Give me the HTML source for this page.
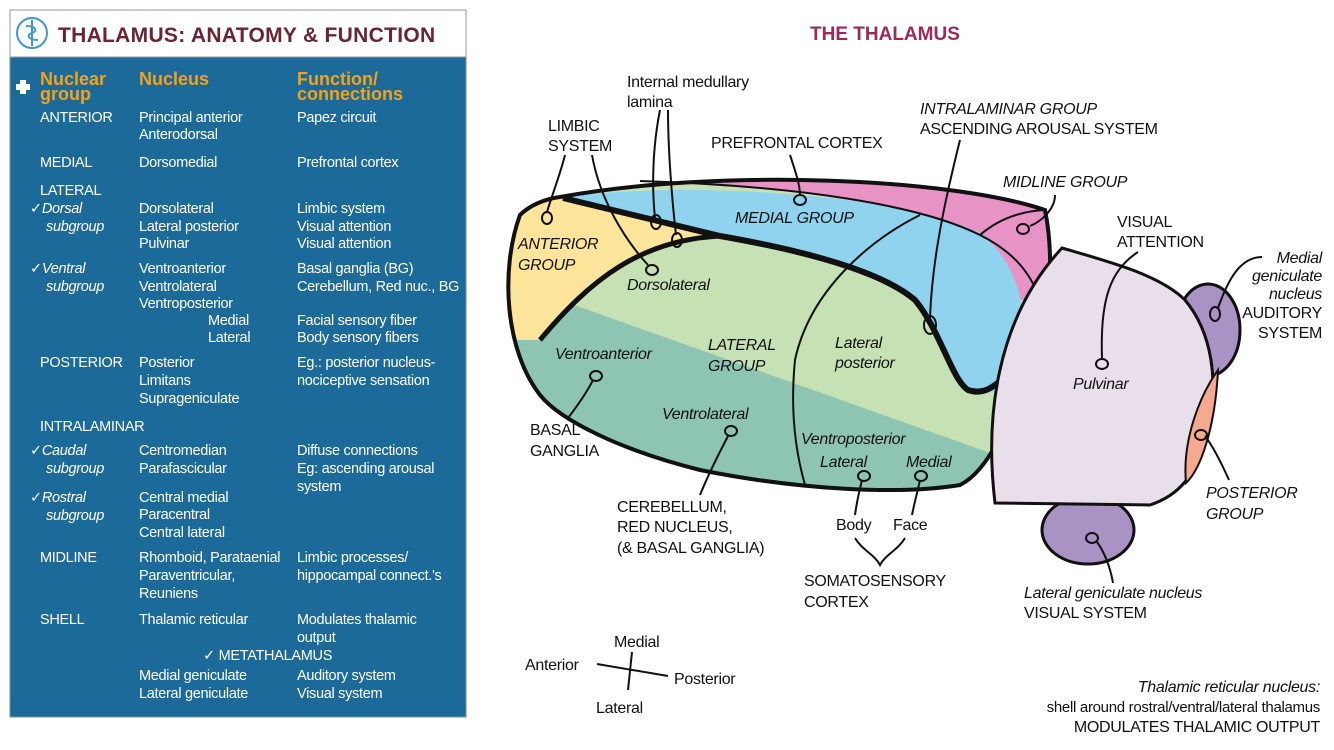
<!DOCTYPE html>
<html><head><meta charset="utf-8"><style>
body{margin:0;background:#fff;}
svg{display:block;}
.t{font-family:"Liberation Sans",sans-serif;font-size:14.5px;fill:#fff;letter-spacing:-0.3px;}
.h{font-family:"Liberation Sans",sans-serif;font-size:18px;font-weight:bold;fill:#f5a11c;}
.d{font-family:"Liberation Sans",sans-serif;font-size:16px;fill:#111;letter-spacing:-0.3px;}
.i{font-style:italic;}
.ln{fill:none;stroke:#111;stroke-width:2;}
.c{fill:none;stroke:#111;stroke-width:2;}
</style></head><body>
<svg width="1334" height="750" viewBox="0 0 1334 750" xmlns="http://www.w3.org/2000/svg">
<!-- LEFT PANEL -->
<rect x="10" y="57" width="456" height="660" fill="#1c6a9a" stroke="#7a8a99" stroke-width="1"/>
<rect x="10" y="10" width="456" height="47" fill="#fff" stroke="#999" stroke-width="1"/>
<circle cx="32" cy="33" r="15" fill="#fff" stroke="#3a9ad0" stroke-width="2"/>
<path d="M32 20 L32 46 M26 26 C36 26 38 31 32 33 C26 35 28 40 38 40" stroke="#3a9ad0" stroke-width="2" fill="none"/>
<text x="58" y="42" font-family="Liberation Sans,sans-serif" font-size="21" font-weight="bold" fill="#6b2434" letter-spacing="0.3">THALAMUS: ANATOMY &amp; FUNCTION</text>
<path d="M16 87 h14 M23 80 v14" stroke="#fff" stroke-width="6"/>
<text class="h" x="40" y="85">Nuclear</text><text class="h" x="40" y="100">group</text>
<text class="h" x="139" y="85">Nucleus</text>
<text class="h" x="297" y="85">Function/</text><text class="h" x="297" y="100">connections</text>
<g class="t">
<text x="40" y="122">ANTERIOR</text><text x="139" y="122">Principal anterior</text><text x="139" y="139">Anterodorsal</text><text x="297" y="122">Papez circuit</text>
<text x="40" y="167">MEDIAL</text><text x="139" y="167">Dorsomedial</text><text x="297" y="167">Prefrontal cortex</text>
<text x="40" y="195">LATERAL</text>
<text x="30" y="213">✓<tspan class="i">Dorsal</tspan></text><text x="46" y="231" class="i">subgroup</text>
<text x="139" y="213">Dorsolateral</text><text x="139" y="231">Lateral posterior</text><text x="139" y="248">Pulvinar</text>
<text x="297" y="213">Limbic system</text><text x="297" y="231">Visual attention</text><text x="297" y="248">Visual attention</text>
<text x="30" y="273">✓<tspan class="i">Ventral</tspan></text><text x="46" y="291" class="i">subgroup</text>
<text x="139" y="273">Ventroanterior</text><text x="139" y="291">Ventrolateral</text><text x="139" y="308">Ventroposterior</text><text x="208" y="325">Medial</text><text x="208" y="342">Lateral</text>
<text x="297" y="273">Basal ganglia (BG)</text><text x="297" y="291">Cerebellum, Red nuc., BG</text><text x="297" y="325">Facial sensory fiber</text><text x="297" y="342">Body sensory fibers</text>
<text x="40" y="367">POSTERIOR</text><text x="139" y="367">Posterior</text><text x="139" y="385">Limitans</text><text x="139" y="403">Suprageniculate</text>
<text x="297" y="367">Eg.: posterior nucleus-</text><text x="297" y="385">nociceptive sensation</text>
<text x="40" y="431">INTRALAMINAR</text>
<text x="30" y="455">✓<tspan class="i">Caudal</tspan></text><text x="46" y="473" class="i">subgroup</text>
<text x="139" y="455">Centromedian</text><text x="139" y="473">Parafascicular</text>
<text x="297" y="455">Diffuse connections</text><text x="297" y="473">Eg: ascending arousal</text><text x="297" y="491">system</text>
<text x="30" y="502">✓<tspan class="i">Rostral</tspan></text><text x="46" y="520" class="i">subgroup</text>
<text x="139" y="502">Central medial</text><text x="139" y="519">Paracentral</text><text x="139" y="537">Central lateral</text>
<text x="40" y="562">MIDLINE</text><text x="139" y="562">Rhomboid, Parataenial</text><text x="139" y="580">Paraventricular,</text><text x="139" y="598">Reuniens</text>
<text x="297" y="562">Limbic processes/</text><text x="297" y="580">hippocampal connect.'s</text>
<text x="40" y="624">SHELL</text><text x="139" y="624">Thalamic reticular</text><text x="297" y="624">Modulates thalamic</text><text x="297" y="642">output</text>
<text x="203" y="660">✓ METATHALAMUS</text>
<text x="139" y="680">Medial geniculate</text><text x="139" y="698">Lateral geniculate</text>
<text x="297" y="680">Auditory system</text><text x="297" y="698">Visual system</text>
</g>

<!-- RIGHT DIAGRAM -->
<text x="810" y="40" font-family="Liberation Sans,sans-serif" font-size="19" font-weight="bold" fill="#9b2a5a">THE THALAMUS</text>
<defs>
<clipPath id="body"><path d="M560 197 C720 168 950 178 1045 210 C1055 260 1050 320 1030 360 C1010 420 990 470 960 485 C900 495 800 490 700 470 C620 450 560 420 540 395 C505 350 500 270 520 215 C530 205 545 199 560 197 Z"/></clipPath>
</defs>
<g clip-path="url(#body)">
<rect x="480" y="150" width="600" height="360" fill="#c6e2b5"/>
<path d="M560 300 L1010 460 L1010 520 L480 520 L480 300 Z" fill="#8ec5b2"/>
<path d="M480 150 L1080 150 L1080 300 L1010 300 L980 235 C920 205 800 185 640 180 L560 197 Z" fill="#e793c6"/>
<path d="M560 197 C700 180 900 195 980 233 C1020 265 1030 310 1020 380 C1005 395 980 395 968 388 C950 370 940 320 915 300 C880 272 800 250 720 236 Z" fill="#8fd3ef"/>
<path d="M560 197 L720 236 C640 240 590 280 540 340 L480 340 L480 150 Z" fill="#fce59a"/>
</g>
<path d="M560 197 C720 168 950 178 1045 210 C1055 260 1050 320 1030 360 C1010 420 990 470 960 485 C900 495 800 490 700 470 C620 450 560 420 540 395 C505 350 500 270 520 215 C530 205 545 199 560 197 Z" fill="none" stroke="#111" stroke-width="4"/>
<path d="M640 181 C800 186 920 205 980 235 C1010 250 1030 270 1040 300" class="ln" stroke-width="3"/>
<path d="M980 235 C995 222 1015 212 1043 210" class="ln" stroke-width="3"/>
<path d="M563 198 L720 236 C800 250 880 270 915 300 C940 330 952 380 968 390 C985 396 995 385 1008 375" fill="none" stroke="#111" stroke-width="6"/>
<path d="M720 236 C640 240 590 280 540 340" fill="none" stroke="#111" stroke-width="5"/>
<path d="M920 215 C870 240 810 290 795 360 C790 410 795 450 805 485" class="ln" stroke-width="3"/>
<!-- posterior parts -->
<ellipse cx="1088" cy="530" rx="46" ry="34" fill="#a893c4" stroke="#111" stroke-width="3"/>
<ellipse cx="1208" cy="330" rx="32" ry="46" fill="#a893c4" stroke="#111" stroke-width="3"/>
<path d="M1062 248 C1110 262 1160 275 1185 300 C1210 330 1222 380 1205 440 C1195 475 1180 495 1150 505 L995 503 C985 420 995 320 1062 248 Z" fill="#e8dfeb" stroke="#111" stroke-width="3"/>
<path d="M1218 370 C1200 395 1182 440 1186 483 C1200 470 1215 430 1218 370 Z" fill="#f5a98f" stroke="#111" stroke-width="2"/>
<!-- labels -->
<g class="d">
<text x="627" y="87">Internal medullary</text><text x="627" y="107">lamina</text>
<text x="548" y="131">LIMBIC</text><text x="548" y="151">SYSTEM</text>
<text x="711" y="148">PREFRONTAL CORTEX</text>
<text x="920" y="114" class="i">INTRALAMINAR GROUP</text><text x="920" y="134">ASCENDING AROUSAL SYSTEM</text>
<text x="1003" y="187" class="i">MIDLINE GROUP</text>
<text x="1117" y="227">VISUAL</text><text x="1117" y="247">ATTENTION</text>
<text x="1322" y="263" text-anchor="end" class="i">Medial</text><text x="1322" y="281" text-anchor="end" class="i">geniculate</text><text x="1322" y="299" text-anchor="end" class="i">nucleus</text>
<text x="1322" y="318" text-anchor="end">AUDITORY</text><text x="1322" y="338" text-anchor="end">SYSTEM</text>
<text x="735" y="223" class="i">MEDIAL GROUP</text>
<text x="518" y="249" class="i">ANTERIOR</text><text x="518" y="270" class="i">GROUP</text>
<text x="627" y="290" class="i">Dorsolateral</text>
<text x="555" y="359" class="i">Ventroanterior</text>
<text x="708" y="350" class="i">LATERAL</text><text x="708" y="371" class="i">GROUP</text>
<text x="835" y="348" class="i">Lateral</text><text x="835" y="368" class="i">posterior</text>
<text x="1073" y="389" class="i">Pulvinar</text>
<text x="530" y="435">BASAL</text><text x="530" y="456">GANGLIA</text>
<text x="662" y="419" class="i">Ventrolateral</text>
<text x="801" y="444" class="i">Ventroposterior</text>
<text x="820" y="467" class="i">Lateral</text><text x="906" y="467" class="i">Medial</text>
<text x="617" y="512">CEREBELLUM,</text><text x="617" y="532">RED NUCLEUS,</text><text x="617" y="553">(&amp; BASAL GANGLIA)</text>
<text x="836" y="530">Body</text><text x="893" y="530">Face</text>
<text x="804" y="586">SOMATOSENSORY</text><text x="804" y="607">CORTEX</text>
<text x="1206" y="498" class="i">POSTERIOR</text><text x="1206" y="519" class="i">GROUP</text>
<text x="1024" y="598" class="i">Lateral geniculate nucleus</text><text x="1024" y="618">VISUAL SYSTEM</text>
<text x="614" y="647">Medial</text><text x="525" y="670">Anterior</text><text x="674" y="684">Posterior</text><text x="596" y="713">Lateral</text>
<text x="1320" y="692" text-anchor="end" class="i">Thalamic reticular nucleus:</text>
<text x="1320" y="712" text-anchor="end" font-size="15">shell around rostral/ventral/lateral thalamus</text>
<text x="1320" y="732" text-anchor="end">MODULATES THALAMIC OUTPUT</text>
</g>
<!-- compass -->
<path d="M597 664 L668 676 M632 652 L628 690" class="ln"/>
<!-- leader lines and markers -->
<g class="ln">
<path d="M565 155 C560 175 552 195 547 212"/><ellipse cx="547" cy="218" rx="5" ry="6" class="c"/>
<path d="M592 155 C600 200 625 240 648 265"/><ellipse cx="652" cy="270" rx="6" ry="5" class="c"/>
<path d="M660 110 C652 150 652 190 655 218"/><ellipse cx="656" cy="222" rx="5" ry="7" class="c"/>
<path d="M668 110 C668 150 672 200 676 235"/><ellipse cx="677" cy="240" rx="5" ry="7" class="c"/>
<path d="M790 155 C795 170 800 185 800 195"/><ellipse cx="800" cy="200" rx="6" ry="5" class="c"/>
<path d="M960 140 C945 200 932 260 930 318"/><ellipse cx="930" cy="325" rx="6" ry="9" class="c"/>
<path d="M1055 195 C1055 210 1040 222 1030 226"/><ellipse cx="1023" cy="229" rx="6" ry="5" class="c"/>
<path d="M1138 252 C1110 270 1100 300 1102 358"/><ellipse cx="1102" cy="364" rx="6" ry="5" class="c"/>
<path d="M1262 257 C1240 257 1228 280 1218 308"/><ellipse cx="1215" cy="314" rx="5" ry="7" class="c"/>
<path d="M1229 480 C1220 460 1212 445 1205 436"/><ellipse cx="1201" cy="435" rx="6" ry="5" class="c"/>
<path d="M1113 583 C1110 565 1103 550 1097 542"/><ellipse cx="1092" cy="538" rx="6" ry="5" class="c"/>
<path d="M568 418 C578 405 588 390 593 380"/><ellipse cx="596" cy="376" rx="6" ry="5" class="c"/>
<path d="M700 495 C710 470 722 448 728 436"/><ellipse cx="731" cy="431" rx="6" ry="5" class="c"/>
<path d="M855 515 C857 500 860 488 862 480"/><ellipse cx="864" cy="476" rx="6" ry="5" class="c"/>
<path d="M912 515 C915 500 918 490 920 480"/><ellipse cx="921" cy="476" rx="6" ry="5" class="c"/>
<path d="M855 538 C862 550 875 555 880 565 C885 555 898 550 905 538"/>
</g>
</svg>
</body></html>
